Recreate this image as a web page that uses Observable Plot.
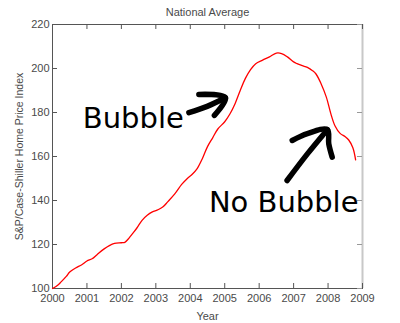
<!DOCTYPE html>
<html>
<head>
<meta charset="utf-8">
<script src="https://cdn.jsdelivr.net/npm/d3@7"></script>
<script src="https://cdn.jsdelivr.net/npm/@observablehq/plot@0.6"></script>
<style>
  html, body { margin: 0; padding: 0; background: #fff; }
  #chart svg { display: block; }
</style>
</head>
<body>
<div id="chart"></div>
<script>
// Data (fractional year, index value)
const years = [2000.0, 2000.15, 2000.25, 2000.4, 2000.5, 2000.67, 2000.85, 2001.0, 2001.15, 2001.3,
  2001.5, 2001.65, 2001.8, 2002.0, 2002.1, 2002.2, 2002.3, 2002.45, 2002.6, 2002.75,
  2002.9, 2003.05, 2003.2, 2003.35, 2003.55, 2003.75, 2003.9, 2004.05, 2004.2, 2004.35,
  2004.5, 2004.65, 2004.8, 2005.0, 2005.15, 2005.3, 2005.45, 2005.6, 2005.75, 2005.9,
  2006.1, 2006.3, 2006.5, 2006.65, 2006.82, 2007.0, 2007.1, 2007.25, 2007.4, 2007.55,
  2007.65, 2007.8, 2007.95, 2008.08, 2008.2, 2008.35, 2008.5, 2008.6, 2008.72, 2008.8];
const values = [100, 101.5, 103, 105.5, 107.5, 109.3, 110.8, 112.5, 113.5, 115.5,
  118, 119.5, 120.5, 120.8, 121, 122.5, 124.5, 127.5, 131, 133.3,
  134.8, 135.7, 137, 139.5, 143, 147.3, 149.8, 151.8, 154.5, 159,
  164.5, 168.5, 172.5, 175.8, 179.3, 184, 190, 195.5, 199.5, 202.2,
  203.8, 205.3, 207, 206.8, 205.3, 203, 202.2, 201.3, 200.5, 199,
  197.5, 193, 187, 179.5, 174, 170.5, 169, 167.5, 164, 158.5];

const xTicks = [2000, 2001, 2002, 2003, 2004, 2005, 2006, 2007, 2008, 2009];
const yTicks = [100, 120, 140, 160, 180, 200, 220];

const titleText = "National Average";
const xLabel = "Year";
const yLabel = "S&P/Case-Shiller Home Price Index";

// Hand-drawn annotations (labels and arrow strokes, in data units)
const notes = [
  {text: "Bubble", year: 2000.88, value: 177},
  {text: "No Bubble", year: 2004.54, value: 139}
];
const arrowStrokes = [
  {id: "b-shaft", pts: [[2003.96, 179.9], [2004.49, 182.8], [2005.02, 186.7]]},
  {id: "b-head", pts: [[2004.25, 188.2], [2005.02, 186.7], [2004.70, 178.7]]},
  {id: "n-shaft", pts: [[2006.81, 149.1], [2007.40, 161.2], [2007.98, 172.2]]},
  {id: "n-head", pts: [[2006.96, 167.3], [2007.40, 170.4], [2007.98, 172.2], [2008.02, 165.8], [2008.12, 159.7]]}
];

const series = years.map((y, i) => ({year: y, value: values[i]}));
const arrowData = arrowStrokes.flatMap(s => s.pts.map(p => ({id: s.id, year: p[0], value: p[1]})));

const font = "'Liberation Sans', Arial, sans-serif";
const axisColor = "#555";
const textColor = "#4a4a4a";

const plot = Plot.plot({
  width: 400,
  height: 323,
  marginLeft: 52,
  marginRight: 38,
  marginTop: 24,
  marginBottom: 35,
  style: {fontFamily: font, background: "#fff", overflow: "visible"},
  x: {domain: [2000, 2009], axis: null},
  y: {domain: [100, 220], axis: null},
  marks: [
    // frame: dark on left/top/bottom, light on right
    Plot.frame({stroke: axisColor, strokeWidth: 1}),
    Plot.ruleX([2009], {stroke: "#c8c8c8", strokeWidth: 2}),
    // inward ticks
    Plot.tickX(xTicks, {x: d => d, insetTop: 259, stroke: axisColor}),
    Plot.tickX(xTicks, {x: d => d, insetBottom: 259, stroke: axisColor}),
    Plot.tickY(yTicks, {y: d => d, insetRight: 305, stroke: axisColor}),
    Plot.tickY(yTicks, {y: d => d, insetLeft: 305, stroke: "#999"}),
    // tick labels
    Plot.text(xTicks, {x: d => d, frameAnchor: "bottom", dy: 10, lineAnchor: "middle", text: d => String(d),
      fontSize: 11, fill: textColor, fontFamily: font}),
    Plot.text(yTicks, {y: d => d, frameAnchor: "left", dx: -3, textAnchor: "end", lineAnchor: "middle",
      text: d => String(d), fontSize: 11, fill: textColor, fontFamily: font}),
    // axis labels and title
    Plot.text([xLabel], {frameAnchor: "bottom", dy: 27.5, lineAnchor: "middle", text: d => d,
      fontSize: 11, fill: textColor, fontFamily: font}),
    Plot.text([yLabel], {frameAnchor: "left", dx: -33, rotate: -90, textAnchor: "middle", text: d => d,
      fontSize: 10.5, fill: textColor, fontFamily: font}),
    Plot.text([titleText], {frameAnchor: "top", dy: -12, lineAnchor: "middle", text: d => d,
      fontSize: 11, fill: textColor, fontFamily: font}),
    // data line
    Plot.line(series, {x: "year", y: "value", stroke: "#ff0000", strokeWidth: 1.3, curve: "catmull-rom"}),
    // annotations
    Plot.line(arrowData, {x: "year", y: "value", z: "id", stroke: "#000", strokeWidth: 5.5,
      strokeLinecap: "round", strokeLinejoin: "round", curve: "catmull-rom"}),
    Plot.text(notes, {x: "year", y: "value", text: "text", textAnchor: "start", lineAnchor: "middle",
      fontSize: 29, fill: "#000", fontFamily: "'DejaVu Sans', sans-serif"})
  ]
});
document.getElementById("chart").appendChild(plot);
</script>
</body>
</html>
